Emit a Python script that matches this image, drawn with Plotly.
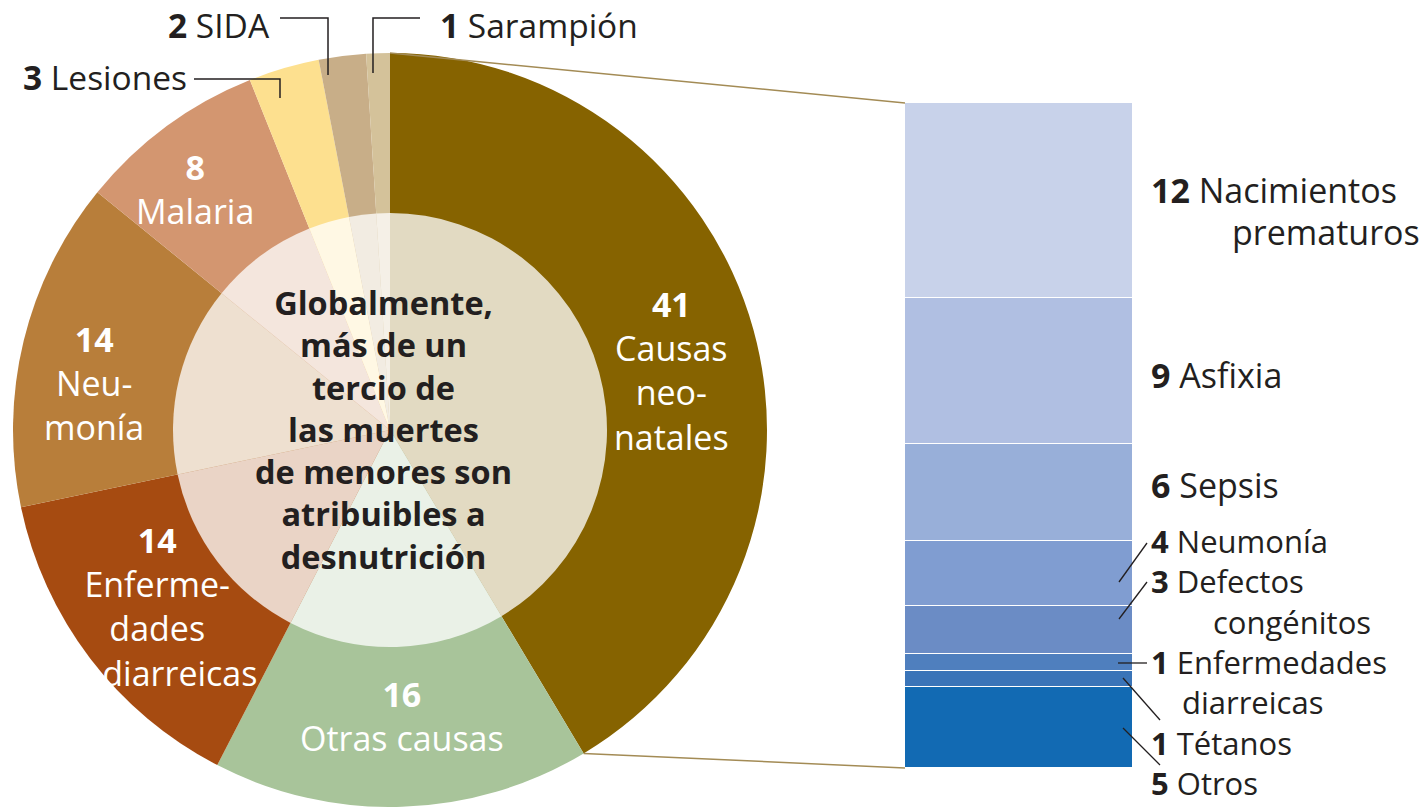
import math
import plotly.graph_objects as go

# ---------------- Data ----------------
causes = ["Causas neonatales", "Otras causas", "Enfermedades diarreicas", "Neumonía",
          "Malaria", "Lesiones", "SIDA", "Sarampión"]
cause_values = [41, 16, 14, 14, 8, 3, 2, 1]
cause_colors = ["#866300", "#A8C49A", "#A64B11", "#B87E3A",
                "#D39670", "#FDE08F", "#C8AE88", "#D4C29A"]

neonatal_causes = ["Nacimientos prematuros", "Asfixia", "Sepsis", "Neumonía",
                   "Defectos congénitos", "Enfermedades diarreicas", "Tétanos", "Otros"]
neonatal_values = [12, 9, 6, 4, 3, 1, 1, 5]
neonatal_colors = ["#C8D2EA", "#B0BFE2", "#98AFD9", "#809DD1",
                   "#6B8CC5", "#4F7FBE", "#3A74B8", "#126AB3"]

center_text = ("Globalmente,<br>más de un<br>tercio de<br>las muertes<br>"
               "de menores son<br>atribuibles a<br>desnutrición")

# ---------------- Geometry helpers ----------------
W, H = 1425, 807
FONT = "Open Sans"
DARK = "#231F20"
EM = "\u2003"


def px(x):
    return x / W


def py(y):
    return 1 - y / H


def lighten(hexcol, a=0.76):
    h = hexcol.lstrip("#")
    r, g, b = (int(h[i:i + 2], 16) for i in (0, 2, 4))
    r, g, b = (round(c + (255 - c) * a) for c in (r, g, b))
    return f"rgb({r},{g},{b})"


cx, cy, R = 390, 430, 377     # outer pie (pixels)
r_in = 217                    # translucent inner disc

bar_left, bar_right = 905, 1133
bar_top, bar_bottom = 103, 768
total_neo = sum(neonatal_values)
unit = (bar_bottom - bar_top) / total_neo
ymin = -2
bar_dom_bottom = bar_bottom - ymin * unit

fig = go.Figure()

# Outer pie
fig.add_trace(go.Pie(
    labels=causes, values=cause_values, sort=False, direction="clockwise", rotation=0,
    marker=dict(colors=cause_colors, line=dict(width=0)),
    textinfo="none", hoverinfo="label+value", showlegend=False,
    domain=dict(x=[px(cx - R), px(cx + R)], y=[py(cy + R), py(cy - R)]),
))
# Inner translucent disc (same slices, whitened)
fig.add_trace(go.Pie(
    labels=causes, values=cause_values, sort=False, direction="clockwise", rotation=0,
    marker=dict(colors=[lighten(c) for c in cause_colors], line=dict(width=0)),
    textinfo="none", hoverinfo="skip", showlegend=False,
    domain=dict(x=[px(cx - r_in), px(cx + r_in)], y=[py(cy + r_in), py(cy - r_in)]),
))

# Stacked bar (bottom to top)
for name, v, c in reversed(list(zip(neonatal_causes, neonatal_values, neonatal_colors))):
    fig.add_trace(go.Bar(
        x=[0], y=[v], name=name, width=1,
        marker=dict(color=c, line=dict(color="white", width=1.5)),
        showlegend=False, hoverinfo="name+y",
    ))

shapes = []
annotations = []

# Connection lines from the neonatal slice to the bar
line_col = "#A38B55"
frac = cause_values[0] / sum(cause_values)
theta = 2 * math.pi * frac
p_top = (cx, cy - R)
p_end = (cx + R * math.sin(theta), cy - R * math.cos(theta))
shapes.append(dict(type="line", xref="paper", yref="paper",
                   x0=px(p_top[0]), y0=py(p_top[1]), x1=px(bar_left), y1=py(bar_top),
                   line=dict(color=line_col, width=1.5)))
shapes.append(dict(type="line", xref="paper", yref="paper",
                   x0=px(p_end[0]), y0=py(p_end[1]), x1=px(bar_left), y1=py(bar_bottom),
                   line=dict(color=line_col, width=1.5)))


def path(points, width=1.5):
    d = "M " + " L ".join(f"{px(x):.5f},{py(y):.5f}" for x, y in points)
    return dict(type="path", xref="paper", yref="paper", path=d,
                line=dict(color=DARK, width=width))


def ann(text, x, y, size, color=DARK, xanchor="center", align="center",
        bold=False, yanchor="middle"):
    if bold:
        text = f"<b>{text}</b>"
    annotations.append(dict(text=text, x=px(x), y=py(y), xref="paper", yref="paper",
                            showarrow=False, xanchor=xanchor, yanchor=yanchor,
                            align=align, font=dict(family=FONT, size=size, color=color)))


# Pie labels inside slices (white)
PS = 34
ann(f"<b>{cause_values[0]}</b><br>Causas<br>neo-<br>natales", 671, 370, PS, "white")
ann(f"<b>{cause_values[1]}</b><br>Otras causas", 402, 716, PS, "white")
ann(f"<b>{cause_values[2]}</b><br>Enferme-<br>dades<br>{EM}\u2004diarreicas",
    157, 606, PS, "white")
ann(f"<b>{cause_values[3]}</b><br>Neu-<br>monía", 94, 383, PS, "white")
ann(f"<b>{cause_values[4]}</b><br>Malaria", 195, 189, PS, "white")

# Outer small-slice labels with leader lines
OS = 33.5
ann(f"<b>{cause_values[7]}</b> {causes[7]}", 438, 25, OS, xanchor="left")
ann(f"<b>{cause_values[6]}</b> {causes[6]}", 272, 25, OS, xanchor="right")
ann(f"<b>{cause_values[5]}</b> {causes[5]}", 189, 77, OS, xanchor="right")
shapes.append(path([(420, 18), (373, 18), (373, 73)]))
shapes.append(path([(280, 18), (328, 18), (328, 75)]))
shapes.append(path([(194, 79), (280, 79), (280, 98)]))

# Centre text
ann(center_text, 383, 429, 32.5, bold=True)

# Bar labels
BS = 34
ann(f"<b>{neonatal_values[0]}</b> Nacimientos", 1149, 190, BS, xanchor="left")
ann("prematuros", 1422, 232, BS, xanchor="right")
ann(f"<b>{neonatal_values[1]}</b> {neonatal_causes[1]}", 1149, 375, BS, xanchor="left")
ann(f"<b>{neonatal_values[2]}</b> {neonatal_causes[2]}", 1149, 485, BS, xanchor="left")

# Tight block of small-segment labels (one text block, left aligned)
block = "<br>".join([
    f"<b>{neonatal_values[3]}</b> {neonatal_causes[3]}",
    f"<b>{neonatal_values[4]}</b> Defectos",
    f"{EM}{EM}congénitos",
    f"<b>{neonatal_values[5]}</b> Enfermedades",
    f"{EM}diarreicas",
    f"<b>{neonatal_values[6]}</b> {neonatal_causes[6]}",
    f"<b>{neonatal_values[7]}</b> {neonatal_causes[7]}",
])
ann(block, 1149, 662, 31, xanchor="left", align="left")

for pts in ([(1119, 582), (1147, 543)],
            [(1119, 619), (1147, 582)],
            [(1118, 663), (1147, 663)],
            [(1123, 678), (1160, 720)],
            [(1123, 728), (1160, 765)]):
    shapes.append(path(pts, 1.3))

fig.update_layout(
    width=W, height=H, margin=dict(l=0, r=0, t=0, b=0),
    paper_bgcolor="white", plot_bgcolor="rgba(0,0,0,0)",
    barmode="stack", bargap=0,
    xaxis=dict(domain=[px(bar_left), px(bar_right)], range=[-0.5, 0.5], visible=False, fixedrange=True),
    yaxis=dict(domain=[py(bar_dom_bottom), py(bar_top)], range=[ymin, total_neo], visible=False, fixedrange=True),
    shapes=shapes, annotations=annotations,
    font=dict(family=FONT),
)

fig.write_html("out.html", config={"displayModeBar": False},
               post_script="document.body.style.margin='0px';")
